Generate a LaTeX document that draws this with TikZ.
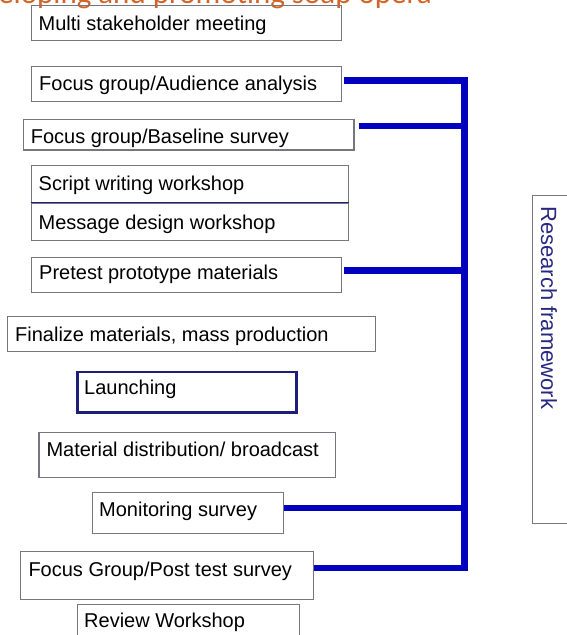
\documentclass[tikz,border=0pt]{standalone}
\usepackage{fontspec}
\setmainfont{Liberation Sans}
\newfontfamily\titlefont{Carlito}
\definecolor{boxgray}{RGB}{118,118,128}
\definecolor{navyline}{RGB}{30,30,120}
\definecolor{linkblue}{RGB}{0,0,190}
\definecolor{rfnavy}{RGB}{40,40,130}
\definecolor{titleorange}{RGB}{210,100,40}
\begin{document}
\begin{tikzpicture}[x=1pt,y=-1pt,
  box/.style={draw=boxgray, line width=1.2pt, inner sep=0pt, anchor=north west},
  txt/.style={font=\fontsize{20}{24}\selectfont, anchor=base west, inner sep=0pt, text=black},
  link/.style={draw=linkblue, line width=6.5pt}]
\useasboundingbox (0,0) rectangle (566,635);
% title (cut off at the top)
\node[anchor=base west, font=\titlefont\fontsize{31}{36}\selectfont, text=titleorange, inner sep=0pt] (title) at (-50,3) {Developing and promoting soap opera};
% boxes
\node[box, minimum width=310pt, minimum height=35pt] (b1) at (30.7,5) {};
\node[box, minimum width=310pt, minimum height=35pt] (b2) at (30.7,65.7) {};
\node[box, minimum width=330.6pt, minimum height=30.3pt] (b3) at (22.7,119) {};
\node[box, minimum width=317.3pt, minimum height=38pt] (b4) at (30.7,164.5) {};
\node[box, minimum width=317.3pt, minimum height=37.5pt] (b5) at (30.7,202.5) {};
\node[box, minimum width=310pt, minimum height=35.2pt] (b6) at (30.7,256.5) {};
\node[box, minimum width=368.3pt, minimum height=34.7pt] (b7) at (6.7,316) {};
\node[box, draw=navyline, line width=2.5pt, minimum width=219pt, minimum height=40.3pt] (b8) at (76,370.7) {};
\node[box, minimum width=296.7pt, minimum height=45pt] (b9) at (38.3,431.7) {};
\node[box, minimum width=191pt, minimum height=41pt] (b10) at (91.7,492) {};
\node[box, minimum width=292.7pt, minimum height=48pt] (b11) at (20,551) {};
\node[box, minimum width=222.3pt, minimum height=45pt] (b12) at (76.7,604) {};
\node[box, minimum width=60pt, minimum height=327.7pt] (rf) at (531.7,195) {};
\draw[navyline, line width=1.5pt] (b5.north west) -- (b5.north east);
% texts
\node[txt] (t1) at (38.5,30.5) {Multi stakeholder meeting};
\node[txt] (t2) at (39,90.5) {Focus group/Audience analysis};
\node[txt] (t3) at (30.7,143.5) {Focus group/Baseline survey};
\node[txt] (t4) at (38.5,190) {Script writing workshop};
\node[txt] (t5) at (38.5,229) {Message design workshop};
\node[txt] (t6) at (39,279.3) {Pretest prototype materials};
\node[txt] (t7) at (15,341.7) {Finalize materials, mass production};
\node[txt] (t8) at (84,394) {Launching};
\node[txt] (t9) at (46.3,456.7) {Material distribution/ broadcast};
\node[txt] (t10) at (99,516.7) {Monitoring survey};
\node[txt] (t11) at (28.3,576.7) {Focus Group/Post test survey};
\node[txt] (t12) at (84,627.7) {Review Workshop};
\node[rotate=-90, anchor=base west, font=\fontsize{22}{26}\selectfont, text=rfnavy, inner sep=0pt] (rft) at (541,206) {Research framework};
% connectors
\coordinate (top) at (464.5,80.5);
\coordinate (bot) at (464.5,568);
\coordinate (j3) at (464.5,126);
\coordinate (j6) at (464.5,270.7);
\coordinate (j10) at (464.5,508);
\draw[link] ([xshift=2pt]b2.east |- top) -- (top) -- (bot) -- (b11.east |- bot);
\draw[link] ([xshift=4.7pt]b3.east |- j3) -- (j3);
\draw[link] ([xshift=2pt]b6.east |- j6) -- (j6);
\draw[link] (b10.east |- j10) -- (j10);
\end{tikzpicture}
\end{document}
